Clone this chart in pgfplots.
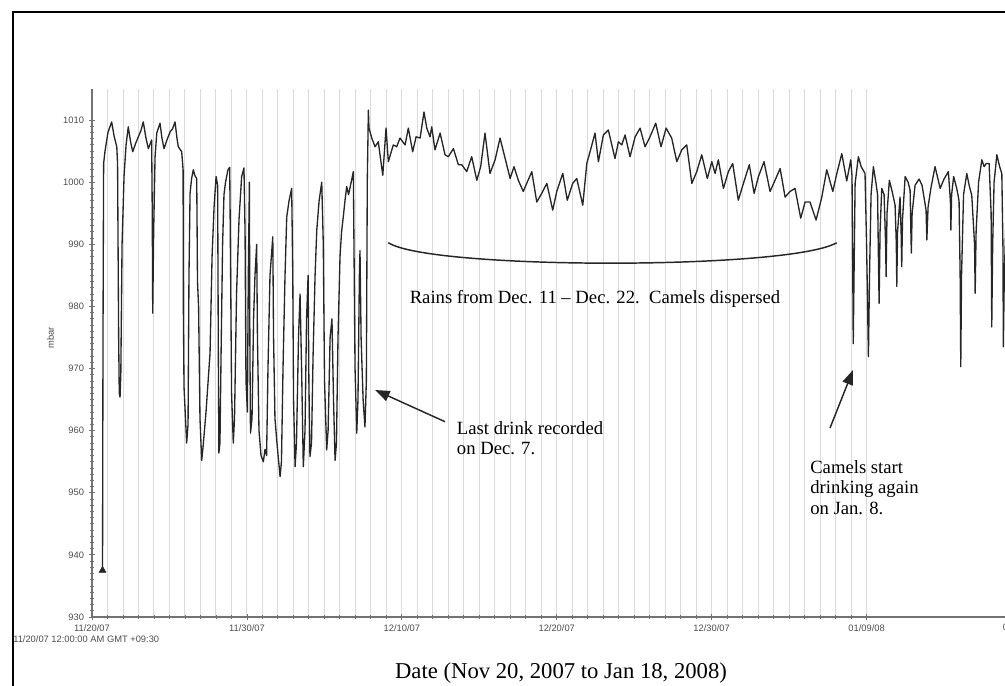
\documentclass[border=0pt]{standalone}
\usepackage{pgfplots}
\pgfplotsset{compat=1.18}
\usetikzlibrary{arrows.meta}
\usepackage{fontspec}
\setmainfont{Liberation Serif}
\newfontfamily\sansf{Liberation Sans}
\begin{document}
\begin{tikzpicture}
\begin{axis}[
  at={(69pt,51pt)}, anchor=south west,
  scale only axis, width=685.5pt, height=396pt,
  xmin=0, xmax=59, ymin=930, ymax=1015,
  axis x line=bottom, axis y line=left,
  axis line style={black!55, line width=0.9pt},
  x axis line style={-}, y axis line style={-},
  xtick={0,10,20,30,40,50},
  xticklabels={11/20/07,11/30/07,12/10/07,12/20/07,12/30/07,01/09/08},
  minor x tick num=9,
  ytick={930,940,...,1010},
  minor y tick num=9,
  xmajorgrids, xminorgrids,
  major grid style={draw=black!14, line width=0.7pt},
  minor grid style={draw=black!14, line width=0.7pt},
  tick align=center,
  major tick length=5pt, minor tick length=3pt,
  tick style={black!55, line width=0.6pt},
  tick label style={font=\sansf\fontsize{7}{8}\selectfont, text=black!70},
  /pgf/number format/assume math mode=true,
  yticklabel style={/pgf/number format/1000 sep={}},
]
\addplot[black!85, line width=1pt, line join=round] coordinates {
(0.68,937.5) (0.71,975) (0.75,1003) (0.84,1005) (1.03,1008) (1.27,1009.7)
(1.42,1007.5) (1.60,1005.7) (1.65,1003) (1.72,975) (1.76,966) (1.81,965.4)
(1.86,969) (1.94,990) (2.07,1001) (2.20,1006) (2.34,1008.9) (2.49,1006.5)
(2.63,1004.9) (2.81,1006.2) (2.99,1007.3) (3.16,1008.3) (3.31,1009.7) (3.49,1007)
(3.64,1005.4) (3.85,1006.8) (3.89,995) (3.92,978.9) (3.98,992) (4.07,1004)
(4.18,1007.9) (4.39,1009.5) (4.52,1007) (4.65,1005.4) (4.84,1006.8) (5.04,1008.1)
(5.20,1008.6) (5.36,1009.7) (5.49,1007) (5.57,1005.7) (5.79,1004.9) (5.88,1002)
(5.90,979) (5.94,967) (6.11,958) (6.20,961) (6.26,985) (6.33,998.2)
(6.43,1000.6) (6.54,1002) (6.65,1001) (6.76,1000.6) (6.81,984) (6.88,980)
(6.97,962) (7.08,955.2) (7.17,957.4) (7.36,963) (7.62,972.5) (7.75,988)
(7.88,996) (8.01,1000.9) (8.11,999.5) (8.15,975) (8.19,956.4) (8.26,958)
(8.33,972) (8.43,990) (8.52,998) (8.62,1000) (8.78,1002) (8.89,1002.4)
(8.95,985) (9.01,966) (9.12,958) (9.20,962) (9.33,982) (9.49,994)
(9.66,1000.9) (9.81,1002.3) (9.88,992) (9.94,968) (10.03,963) (10.09,985)
(10.16,1000) (10.19,975) (10.23,959.6) (10.33,962) (10.43,978) (10.52,985)
(10.63,990) (10.68,975) (10.78,960) (10.91,956) (11.06,955) (11.17,957)
(11.27,956) (11.36,970) (11.49,985) (11.67,991.2) (11.72,975) (11.81,962)
(11.94,958) (12.14,952.6) (12.23,955) (12.33,970) (12.46,985) (12.57,994.4)
(12.72,997) (12.89,999) (12.96,985) (13.01,965) (13.11,954.2) (13.20,958)
(13.33,975) (13.43,982) (13.53,970) (13.64,954.2) (13.75,960) (13.85,978)
(13.95,985) (14.00,968) (14.07,955.8) (14.17,958) (14.27,972) (14.40,985)
(14.51,992.3) (14.66,997) (14.83,1000) (14.93,990) (15.01,968) (15.15,956.9)
(15.24,960) (15.37,975) (15.49,978) (15.59,965) (15.69,955.2) (15.78,958)
(15.88,975) (16.01,988) (16.11,992) (16.22,994.4) (16.33,997) (16.44,999.3)
(16.56,998) (16.69,999.5) (16.87,1001.7) (16.91,990) (16.98,970) (17.09,959.6)
(17.17,965) (17.26,985) (17.30,989) (17.37,975) (17.50,965) (17.62,960.6)
(17.71,968) (17.77,1000) (17.84,1011.6)
(17.88,1008.7) (18.06,1007.1) (18.27,1005.7) (18.48,1006.5) (18.77,1001.1) (18.98,1008.7)
(19.13,1003.3) (19.45,1006) (19.67,1005.7) (19.88,1007.1) (20.21,1006) (20.42,1008.7)
(20.70,1004.9) (20.92,1007.3) (21.18,1007.1) (21.43,1011.3) (21.61,1008.7) (21.82,1007.3)
(21.93,1008.9) (22.14,1005.2) (22.47,1007.9) (22.79,1004.4) (23.00,1004.1) (23.33,1005.4)
(23.65,1002.8) (23.87,1002.8) (24.19,1001.7) (24.51,1004.1) (24.84,1000.3) (25.09,1002.5)
(25.37,1007.9) (25.69,1001.4) (26.02,1003.6) (26.34,1007.1) (26.77,1002.8) (26.99,1000.6)
(27.24,1002.5) (27.52,1000.3) (27.84,998.5) (28.06,999.8) (28.39,1001.7) (28.71,996.8)
(29.03,998.2) (29.36,999.8) (29.74,995.5) (30.00,998.5) (30.39,1001.4) (30.68,997.1)
(31.03,999.8) (31.29,1000.6) (31.68,996.3) (31.94,1003) (32.15,1004.9) (32.47,1007.9)
(32.69,1003.3) (33.01,1007.6) (33.33,1008.4) (33.76,1003.8) (33.98,1006.5) (34.20,1006)
(34.41,1007.6) (34.73,1004.1) (35.06,1007.3) (35.38,1008.7) (35.70,1005.7) (36.02,1007.3)
(36.39,1009.5) (36.73,1005.7) (37.06,1008.7) (37.42,1007.1) (37.75,1003.3) (38.07,1005.2)
(38.39,1006) (38.72,999.8) (39.04,1001.7) (39.36,1004.4) (39.72,1000.6) (40.01,1003.3)
(40.22,1001.4) (40.43,1003.6) (40.76,999) (41.08,1001.7) (41.36,1003) (41.72,997.1)
(42.05,999.8) (42.43,1002.8) (42.74,998.2) (43.02,1000.9) (43.38,1003.3) (43.77,998.5)
(44.09,1000.3) (44.42,1002.2) (44.74,997.6) (45.06,998.5) (45.38,999) (45.75,994.2)
(46.03,996.8) (46.35,996.8) (46.74,993.9) (47.11,997.6) (47.43,1002) (47.82,998.5)
(48.08,1001.4) (48.40,1004.6) (48.72,1000.2) (48.98,1003.6)
(49.06,1001) (49.11,985) (49.14,974) (49.19,985) (49.26,999.8) (49.47,1004.1)
(49.65,1002.5) (49.90,1001.4) (50.00,990) (50.12,971.9) (50.19,985) (50.29,998)
(50.44,1002.5) (50.61,999.8) (50.71,998) (50.78,985) (50.81,980.5) (50.87,992)
(50.98,999) (51.13,998) (51.23,990) (51.26,984.8) (51.32,995) (51.47,1000.3)
(51.65,998.5) (51.84,996.3) (51.92,990) (51.95,983.2) (52.00,992) (52.16,997.6)
(52.23,992) (52.27,986.4) (52.32,994) (52.49,1000.9) (52.68,1000) (52.81,998.7)
(52.86,992) (52.89,988.6) (52.94,995) (53.13,999.5) (53.39,1000.5) (53.58,999.5)
(53.84,995.5) (53.89,990.7) (53.97,996) (54.15,999) (54.42,1002.5) (54.75,999)
(55.00,1000.5) (55.28,1001.7) (55.41,997) (55.44,992.3) (55.49,998) (55.62,1000.9)
(55.82,999) (55.97,997) (56.04,985) (56.08,970.3) (56.13,985) (56.26,998)
(56.47,1001.4) (56.62,999.5) (56.79,997.9) (56.97,990) (57.01,982.1) (57.07,992)
(57.23,1000) (57.44,1003.6) (57.59,1002.5) (57.72,1003) (57.91,1003) (58.04,995)
(58.08,976.7) (58.14,990) (58.23,1000) (58.41,1004.4) (58.59,1002.5) (58.73,1001.4)
(58.80,990) (58.83,973.5) (58.89,985) (59.01,995)
};
\addplot[only marks, mark=triangle*, mark size=3pt, black!85] coordinates {(0.68,937.5)};
\end{axis}
\begin{scope}[x=0.75pt, y=-0.75pt, yshift=513.75pt]
  % frame
  \draw[line width=1.5pt] (12.5,700) -- (12.5,12.5) -- (1020,12.5);
  % extra axis texts
  \node[anchor=west, inner sep=0, font=\sansf\fontsize{7}{8}\selectfont, text=black!70] at (13,639) {11/20/07 12:00:00 AM GMT +09:30};
  \node[anchor=center, inner sep=0, font=\sansf\fontsize{7}{8}\selectfont, text=black!70] at (1021,627.5) {01/19/08};
  \node[rotate=90, inner sep=0, font=\sansf\fontsize{7}{8}\selectfont, text=black!70] at (50.5,338) {mbar};
  % title
  \node[anchor=base, inner sep=0, font=\fontsize{17}{19}\selectfont] at (561,678) {Date (Nov 20, 2007 to Jan 18, 2008)};
  % rain brace
  \draw[line width=1.1pt, black!85] (388.3,242.7) .. controls (430,270) and (790,270) .. (836.7,242.7);
  \node[anchor=base, inner sep=0, font=\fontsize{14}{15}\selectfont] at (595,303.3) {Rains from Dec. 11 -- Dec. 22.~~Camels dispersed};
  % last drink
  \draw[line width=1.1pt, black!85, -{Triangle[length=11pt,width=8pt]}] (445,421.7) -- (375,390);
  \node[anchor=base west, inner sep=0, font=\fontsize{14}{15}\selectfont] at (456.7,435) {Last drink recorded};
  \node[anchor=base west, inner sep=0, font=\fontsize{14}{15}\selectfont] at (456.7,455) {on Dec. 7.};
  % camels start
  \draw[line width=1.1pt, black!85, -{Triangle[length=11pt,width=8pt]}] (830,428) -- (853,370);
  \node[anchor=base west, inner sep=0, font=\fontsize{14}{15}\selectfont] at (810,474) {Camels start};
  \node[anchor=base west, inner sep=0, font=\fontsize{14}{15}\selectfont] at (810,494) {drinking again};
  \node[anchor=base west, inner sep=0, font=\fontsize{14}{15}\selectfont] at (810,514) {on Jan. 8.};
\end{scope}
\pgfresetboundingbox
\path[use as bounding box] (0pt,0pt) rectangle (753.75pt,513.75pt);
\end{tikzpicture}
\end{document}
